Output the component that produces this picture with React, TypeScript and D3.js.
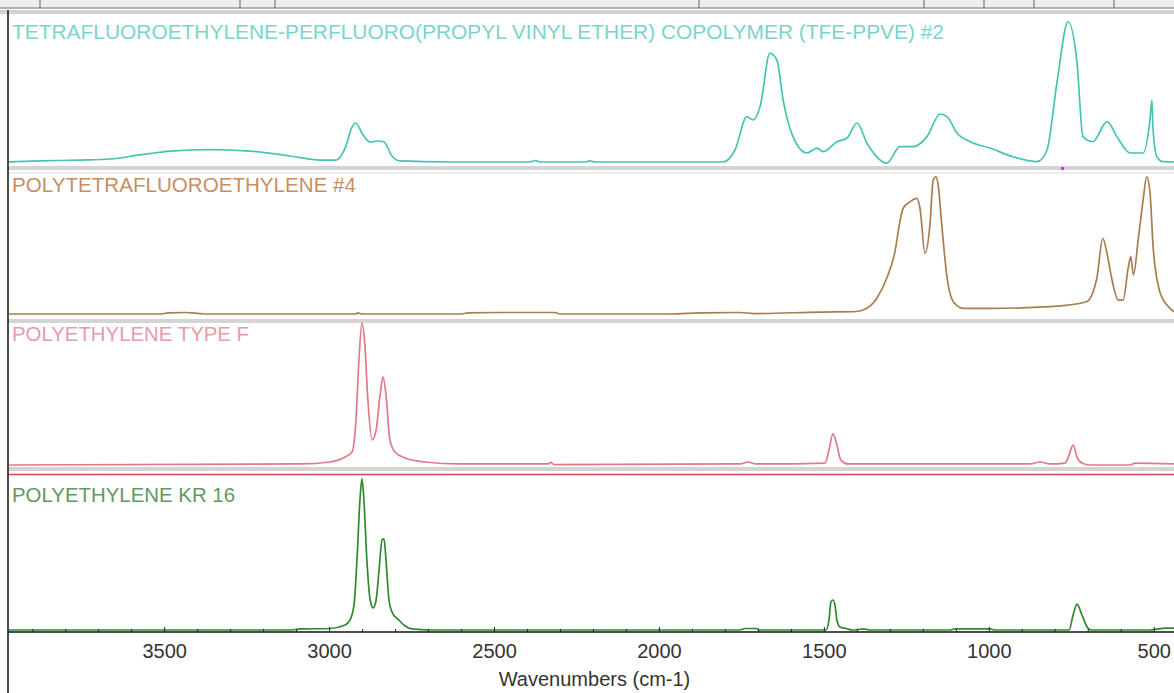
import React from 'react';
import * as d3 from 'd3';

// ---------- data ----------
const tfeWavenumbers = [3975,3878,3757,3666,3575,3484,3363,3241,3120,3029,2981,2953,2932,2920,2902,2877,2853,2835,2811,2787,2635,2392,2377,2362,2226,2211,2195,1807,1771,1735,1716,1695,1665,1644,1625,1595,1553,1522,1504,1462,1431,1401,1371,1310,1271,1231,1189,1149,1128,1098,1058,998,928,855,825,795,761,734,716,686,643,613,573,534,513,507,504,492,473,440];
const tfeAbsorbance = [0,0.007,0.013,0.02,0.047,0.073,0.083,0.073,0.04,0.013,0.013,0.093,0.233,0.26,0.193,0.133,0.14,0.133,0.04,0.007,0,0,0.01,0,0,0.007,0,0,0.08,0.302,0.28,0.369,0.725,0.68,0.413,0.169,0.06,0.093,0.069,0.135,0.16,0.26,0.127,-0.007,0.102,0.102,0.169,0.32,0.302,0.193,0.135,0.093,0.035,0.002,0.08,0.527,0.935,0.66,0.169,0.135,0.269,0.169,0.06,0.06,0.28,0.413,0.235,0.035,0.002,0];

const ptfeWavenumbers = [3975,3514,3490,3438,3393,3372,2923,2914,2902,2605,2580,2483,2317,2302,1968,1877,1756,1707,1513,1412,1382,1341,1311,1286,1271,1261,1240,1220,1210,1195,1180,1170,1162,1155,1144,1129,1109,1079,988,816,705,674,656,644,629,609,594,579,571,563,548,533,523,513,503,483,452,440];
const ptfeAbsorbance = [0,0,0.007,0.01,0.003,0,0,0.007,0,0,0.007,0.01,0.01,0,0,0.007,0.01,0.003,0.013,0.015,0.027,0.105,0.238,0.415,0.615,0.705,0.749,0.771,0.705,0.405,0.593,0.893,0.915,0.86,0.593,0.26,0.082,0.038,0.038,0.049,0.082,0.238,0.505,0.415,0.238,0.093,0.093,0.305,0.382,0.26,0.505,0.771,0.915,0.815,0.438,0.149,0.038,0.015];

const peFWavenumbers = [3975,3090,2999,2953,2932,2920,2911,2902,2893,2884,2871,2859,2847,2838,2829,2817,2802,2771,2711,2605,2338,2329,2320,1756,1731,1707,1498,1486,1474,1462,1450,1428,877,846,816,770,758,746,734,719,695,573,558,440];
const peFAbsorbance = [0,0.007,0.02,0.053,0.087,0.3,0.7,0.947,0.8,0.433,0.167,0.233,0.467,0.587,0.467,0.167,0.087,0.047,0.02,0.007,0.007,0.017,0.003,0.007,0.02,0.007,0.013,0.1,0.207,0.133,0.033,0.007,0.007,0.02,0.007,0.013,0.067,0.133,0.053,0.013,0,0,0.013,0.007];

const peKrWavenumbers = [3975,3120,3090,2999,2953,2938,2926,2917,2908,2902,2896,2887,2877,2868,2859,2850,2841,2835,2829,2820,2808,2793,2771,2750,2696,1756,1741,1707,1695,1495,1486,1480,1474,1468,1462,1453,1434,1416,1380,1362,1119,1104,998,983,758,746,734,719,701,689,513,489,467,440];
const peKrAbsorbance = [0,0,0.007,0.01,0.033,0.067,0.167,0.467,0.867,1.007,0.867,0.467,0.2,0.147,0.2,0.4,0.6,0.607,0.467,0.2,0.107,0.073,0.027,0.007,0,0,0.01,0.01,0,0,0.067,0.187,0.2,0.167,0.067,0.02,0.01,0,0.007,0,0,0.007,0.007,0,0,0.1,0.173,0.1,0.013,0,0,0.007,0.013,0.013];

const panelLabels = [
  'TETRAFLUOROETHYLENE-PERFLUORO(PROPYL VINYL ETHER) COPOLYMER (TFE-PPVE) #2',
  'POLYTETRAFLUOROETHYLENE #4',
  'POLYETHYLENE TYPE F',
  'POLYETHYLENE KR 16',
];
const majorTicks = [3500, 3000, 2500, 2000, 1500, 1000, 500];
const xDomain = [3975, 440];
const axisTitle = 'Wavenumbers (cm-1)';

// ---------- layout / style ----------
const W = 1174;
const H = 693;
const LEFT = 8;
const PANEL_H = 150;
const panelBase = [162, 314, 465, 630];
const labelY = [39, 192, 341, 502];
const labelWidths = [932, 344, 237, 223];
const lineColors = ['#45c4b2', '#a97d50', '#e27a86', '#2f8a2f'];
const labelColors = ['#79d5ca', '#c88e62', '#e99aa6', '#5e9a5e'];
const headerDividers = [40, 240, 275, 699, 924, 984, 1034, 1114];

export default function App() {
  const x = d3.scaleLinear().domain(xDomain).range([LEFT, W]);
  const series = [
    [tfeWavenumbers, tfeAbsorbance],
    [ptfeWavenumbers, ptfeAbsorbance],
    [peFWavenumbers, peFAbsorbance],
    [peKrWavenumbers, peKrAbsorbance],
  ];
  const minorTicks = d3.range(500, 4000, 100);
  const axisY = 632;
  const font = "'Liberation Sans', Arial, Helvetica, sans-serif";

  return (
    <svg width={W} height={H} style={{ position: 'absolute', left: 0, top: 0, background: '#fff' }} fontFamily={font}>
      <rect x={0} y={0} width={W} height={H} fill="#fff" />
      {/* header strip */}
      <rect x={0} y={0} width={W} height={8} fill="#eeeeee" />
      <line x1={0} x2={W} y1={8} y2={8} stroke="#9a9a9a" strokeWidth={1.5} />
      {headerDividers.map((hx, i) => (
        <line key={i} x1={hx} x2={hx} y1={0} y2={8} stroke="#777" strokeWidth={1.2} />
      ))}
      <rect x={0} y={10} width={W} height={4} fill="#d2d2d2" />
      {/* separators */}
      <rect x={LEFT} y={166} width={W} height={4} fill="#d4d4d4" />
      <line x1={LEFT} x2={W} y1={173} y2={173} stroke="#dddddd" strokeWidth={1} />
      <rect x={LEFT} y={319} width={W} height={4} fill="#d4d4d4" />
      <rect x={LEFT} y={467} width={W} height={4} fill="#d4d4d4" />
      <line x1={LEFT} x2={W} y1={474.5} y2={474.5} stroke="#d04a52" strokeWidth={1.5} />
      <rect x={1061} y={167} width={3} height={3} fill="#c040e0" />

      <defs>
        <clipPath id="plotClip">
          <rect x={LEFT + 1} y={0} width={W - LEFT} height={H} />
        </clipPath>
      </defs>

      {series.map(([wn, ab], i) => {
        const y = d3.scaleLinear().domain([0, 1]).range([panelBase[i], panelBase[i] - PANEL_H]);
        const pts = wn.map((w, k) => [w, ab[k]] as [number, number]);
        const line = d3.line<[number, number]>()
          .x(d => x(d[0]))
          .y(d => y(d[1]))
          .curve(d3.curveMonotoneX);
        return (
          <g key={i} clipPath="url(#plotClip)">
            <path d={line(pts) || ''} fill="none" stroke={lineColors[i]} strokeWidth={1.7} strokeLinejoin="round" />
          </g>
        );
      })}

      {panelLabels.map((t, i) => (
        <text key={i} x={12} y={labelY[i]} fontSize={20.5} fill={labelColors[i]}
          textLength={labelWidths[i]} lengthAdjust="spacingAndGlyphs">{t}</text>
      ))}

      {/* x axis */}
      <line x1={LEFT} x2={W} y1={axisY} y2={axisY} stroke="#111" strokeWidth={1.5} />
      {minorTicks.map(t => (
        <line key={t} x1={x(t)} x2={x(t)} y1={axisY} y2={axisY - (t % 500 === 0 ? 5 : 3)} stroke="#222" strokeWidth={1} />
      ))}
      {majorTicks.map(t => (
        <text key={t} x={x(t)} y={658} fontSize={20} fill="#333" textAnchor="middle">{t}</text>
      ))}
      <text x={(494 + 695) / 2} y={686} fontSize={20} fill="#333" textAnchor="middle">{axisTitle}</text>

      {/* left border */}
      <line x1={LEFT} x2={LEFT} y1={10} y2={H} stroke="#111" strokeWidth={1.5} />
    </svg>
  );
}
